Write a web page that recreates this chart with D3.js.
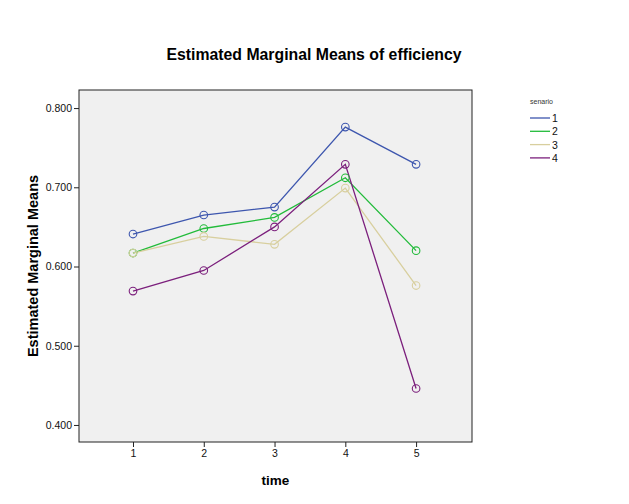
<!DOCTYPE html>
<html>
<head>
<meta charset="utf-8">
<script src="https://cdn.jsdelivr.net/npm/d3@7"></script>
<style>
  body { margin: 0; background: #fff; }
  text { font-family: "Liberation Sans", Arial, sans-serif; }
</style>
</head>
<body>
<div id="chart"></div>
<script>
const times = [1, 2, 3, 4, 5];
const senarios = ["1", "2", "3", "4"];
const colors = ["#3d56ae", "#22bb3a", "#d8cf9e", "#7b1f7c"];
const values1 = [0.641, 0.665, 0.675, 0.776, 0.729];
const values2 = [0.617, 0.648, 0.662, 0.712, 0.620];
const values3 = [0.617, 0.638, 0.628, 0.699, 0.576];
const values4 = [0.569, 0.595, 0.650, 0.729, 0.446];
const yTicks = [0.4, 0.5, 0.6, 0.7, 0.8];

const series = [values1, values2, values3, values4];

const width = 629, height = 504,
    margin = ({ top: 90, right: 157, bottom: 62, left: 79 });

const svg = d3.select("#chart")
    .append("svg")
    .attr("width", width)
    .attr("height", height);

const x = d3.scaleLinear()
    .domain([0.237, 5.79])
    .range([margin.left, width - margin.right]);

const y = d3.scaleLinear()
    .domain([0.3785, 0.8228])
    .range([height - margin.bottom, margin.top]);

// plot background
svg.append("rect")
    .attr("x", margin.left)
    .attr("y", margin.top)
    .attr("width", width - margin.left - margin.right)
    .attr("height", height - margin.top - margin.bottom)
    .attr("fill", "#f0f0f0")
    .attr("stroke", "#222")
    .attr("stroke-width", 1);

const yAxis = g => g
    .attr("transform", `translate(${margin.left},0)`)
    .call(d3.axisLeft(y).tickValues(yTicks).tickFormat(d3.format(".3f")).tickSize(5).tickSizeOuter(0))
    .call(g => g.select(".domain").remove())
    .call(g => g.selectAll("line").attr("stroke", "#222"))
    .call(g => g.selectAll("text").attr("font-size", 10.5).attr("fill", "#111").attr("dx", 1).attr("font-family", "Liberation Sans, Arial"));

const xAxis = g => g
    .attr("transform", `translate(0,${height - margin.bottom})`)
    .call(d3.axisBottom(x).tickValues(times).tickFormat(d3.format("d")).tickSize(5).tickSizeOuter(0))
    .call(g => g.select(".domain").remove())
    .call(g => g.selectAll("line").attr("stroke", "#222"))
    .call(g => g.selectAll("text").attr("font-size", 10.5).attr("fill", "#111").attr("font-family", "Liberation Sans, Arial"));

svg.append("g").call(yAxis);
svg.append("g").call(xAxis);

const line = d3.line()
    .x((d, i) => x(times[i]))
    .y(d => y(d));

series.forEach((vals, s) => {
    svg.append("path")
        .datum(vals)
        .attr("fill", "none")
        .attr("stroke", colors[s])
        .attr("stroke-width", 1.3)
        .attr("d", line);
});

series.forEach((vals, s) => {
    svg.append("g").selectAll("circle")
        .data(vals)
        .join("circle")
        .attr("cx", (d, i) => x(times[i]))
        .attr("cy", d => y(d))
        .attr("r", 3.8)
        .attr("fill", "none")
        .attr("stroke", colors[s])
        .attr("stroke-width", 1.1);
});

// title and axis labels
svg.append("text")
    .attr("x", 314)
    .attr("y", 60)
    .attr("text-anchor", "middle")
    .attr("font-size", 15.8)
    .attr("font-weight", "bold")
    .text("Estimated Marginal Means of efficiency");

svg.append("text")
    .attr("x", (margin.left + width - margin.right) / 2)
    .attr("y", 485)
    .attr("text-anchor", "middle")
    .attr("font-size", 13.5)
    .attr("font-weight", "bold")
    .text("time");

svg.append("text")
    .attr("transform", `translate(38,${(margin.top + height - margin.bottom) / 2}) rotate(-90)`)
    .attr("text-anchor", "middle")
    .attr("font-size", 14.5)
    .attr("font-weight", "bold")
    .text("Estimated Marginal Means");

// legend
const legend = svg.append("g").attr("transform", "translate(530,0)");
legend.append("text")
    .attr("x", 0)
    .attr("y", 104)
    .attr("font-size", 7)
    .attr("fill", "#333")
    .text("senario");

const item = legend.selectAll(".item")
    .data(senarios)
    .join("g")
    .attr("class", "item")
    .attr("transform", (d, i) => `translate(0,${118 + i * 13.3})`);

item.append("line")
    .attr("x1", 0).attr("x2", 20)
    .attr("stroke", (d, i) => colors[i])
    .attr("stroke-width", 1.3);

item.append("text")
    .attr("x", 22)
    .attr("y", 4)
    .attr("font-size", 10.5)
    .attr("fill", "#111")
    .text(d => d);
</script>
</body>
</html>
